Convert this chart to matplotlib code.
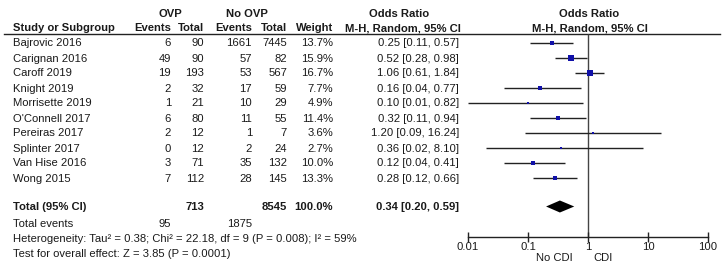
import matplotlib
matplotlib.use("Agg")
import matplotlib.pyplot as plt
import numpy as np

# ---------------- data ----------------
studies = ["Bajrovic 2016", "Carignan 2016", "Caroff 2019", "Knight 2019", "Morrisette 2019",
           "O'Connell 2017", "Pereiras 2017", "Splinter 2017", "Van Hise 2016", "Wong 2015"]
ovp_events = [6, 49, 19, 2, 1, 6, 2, 0, 3, 7]
ovp_total = [90, 90, 193, 32, 21, 80, 12, 12, 71, 112]
no_events = [1661, 57, 53, 17, 10, 11, 1, 2, 35, 28]
no_total = [7445, 82, 567, 59, 29, 55, 7, 24, 132, 145]
weights = [13.7, 15.9, 16.7, 7.7, 4.9, 11.4, 3.6, 2.7, 10.0, 13.3]
or_est = [0.25, 0.52, 1.06, 0.16, 0.10, 0.32, 1.20, 0.36, 0.12, 0.28]
ci_lo = [0.11, 0.28, 0.61, 0.04, 0.01, 0.11, 0.09, 0.02, 0.04, 0.12]
ci_hi = [0.57, 0.98, 1.84, 0.77, 0.82, 0.94, 16.24, 8.10, 0.41, 0.66]

total_ovp = 713
total_no = 8545
total_weight = 100.0
events_ovp = 95
events_no = 1875
pooled = (0.34, 0.20, 0.59)
heterogeneity = "Heterogeneity: Tau\u00b2 = 0.38; Chi\u00b2 = 22.18, df = 9 (P = 0.008); I\u00b2 = 59%"
overall = "Test for overall effect: Z = 3.85 (P = 0.0001)"
axis_ticks = [0.01, 0.1, 1, 10, 100]
axis_ticklabels = ["0.01", "0.1", "1", "10", "100"]

# ---------------- layout ----------------
W, H = 724, 269
plt.rcParams['font.family'] = ['Liberation Sans', 'DejaVu Sans']
FS = 8.1
fig = plt.figure(figsize=(W / 100, H / 100), dpi=100)
ax = fig.add_axes([0, 0, 1, 1])
ax.set_xlim(0, W)
ax.set_ylim(H, 0)
ax.axis('off')

PX0, PX1 = 468, 708
fax = fig.add_axes([PX0 / W, 0, (PX1 - PX0) / W, 1])
fax.set_xscale('log')
fax.set_xlim(0.01, 100)
fax.set_ylim(H, 0)
fax.axis('off')

TXT = '#1a1a1a'
def t(x, y, s, ha='left', bold=False):
    ax.text(x, y + 3.8, s, ha=ha, va='baseline', fontsize=FS, color=TXT,
            fontweight='bold' if bold else 'normal')

# headers
t(170, 13, "OVP", ha='center', bold=True)
t(247, 13, "No OVP", ha='center', bold=True)
t(399, 13, "Odds Ratio", ha='center', bold=True)
t(589, 13, "Odds Ratio", ha='center', bold=True)
t(13, 27.5, "Study or Subgroup", bold=True)
t(171, 27.5, "Events", ha='right', bold=True)
t(204, 27.5, "Total", ha='right', bold=True)
t(252, 27.5, "Events", ha='right', bold=True)
t(287, 27.5, "Total", ha='right', bold=True)
t(333, 27.5, "Weight", ha='right', bold=True)
t(403, 27.5, "M-H, Random, 95% CI", ha='center', bold=True)
t(590, 27.5, "M-H, Random, 95% CI", ha='center', bold=True)
ax.plot([4, 720], [33.5, 33.5], color='#222222', lw=1.0)

y0, dy = 42.7, 15.0
rows_y = [y0 + dy * i for i in range(len(studies))]
for i, y in enumerate(rows_y):
    t(13, y, studies[i])
    t(171, y, str(ovp_events[i]), ha='right')
    t(204, y, str(ovp_total[i]), ha='right')
    t(252, y, str(no_events[i]), ha='right')
    t(287, y, str(no_total[i]), ha='right')
    t(333, y, f"{weights[i]:.1f}%", ha='right')
    t(459, y, f"{or_est[i]:.2f} [{ci_lo[i]:.2f}, {ci_hi[i]:.2f}]", ha='right')

yt = 206.5
t(13, yt, "Total (95% CI)", bold=True)
t(204, yt, str(total_ovp), ha='right', bold=True)
t(287, yt, str(total_no), ha='right', bold=True)
t(333, yt, f"{total_weight:.1f}%", ha='right', bold=True)
t(459, yt, f"{pooled[0]:.2f} [{pooled[1]:.2f}, {pooled[2]:.2f}]", ha='right', bold=True)
t(13, 223, "Total events")
t(171, 223, str(events_ovp), ha='right')
t(252, 223, str(events_no), ha='right')
t(13, 238.5, heterogeneity)
t(13, 253.5, overall)

# forest
AXY = 236.5
fax.vlines(1, 34, AXY, color='#444444', lw=1.0)
fax.hlines(rows_y, ci_lo, ci_hi, color='#222222', lw=1.0)
for i, y in enumerate(rows_y):
    ms = 3.7 * np.sqrt(weights[i] / 16.7)
    fax.plot([or_est[i]], [y], marker='s', ms=max(ms, 1.4), color='#1010a8',
             markeredgewidth=0, linestyle='none')
est, lo, hi = pooled
fax.fill([lo, est, hi, est], [yt, yt - 6, yt, yt + 6], color='black', lw=0)

# scale axis
sax = fig.add_axes([PX0 / W, 1 - AXY / H, (PX1 - PX0) / W, 1e-5])
sax.set_xscale('log')
sax.set_xlim(0.01, 100)
for s in ['left', 'right', 'top']:
    sax.spines[s].set_visible(False)
sax.spines['bottom'].set_color('#222222')
sax.spines['bottom'].set_linewidth(1.0)
sax.set_yticks([])
sax.set_xticks(axis_ticks)
sax.set_xticklabels(axis_ticklabels)
sax.minorticks_off()
sax.tick_params(axis='x', direction='inout', length=6.5, width=1.0, color='#222222',
                labelsize=FS, labelcolor=TXT, pad=1.0)
sax.patch.set_visible(False)

t(573, 257.5, "No CDI", ha='right')
t(593, 257.5, "CDI")

fig.savefig("out.png", dpi=100)
